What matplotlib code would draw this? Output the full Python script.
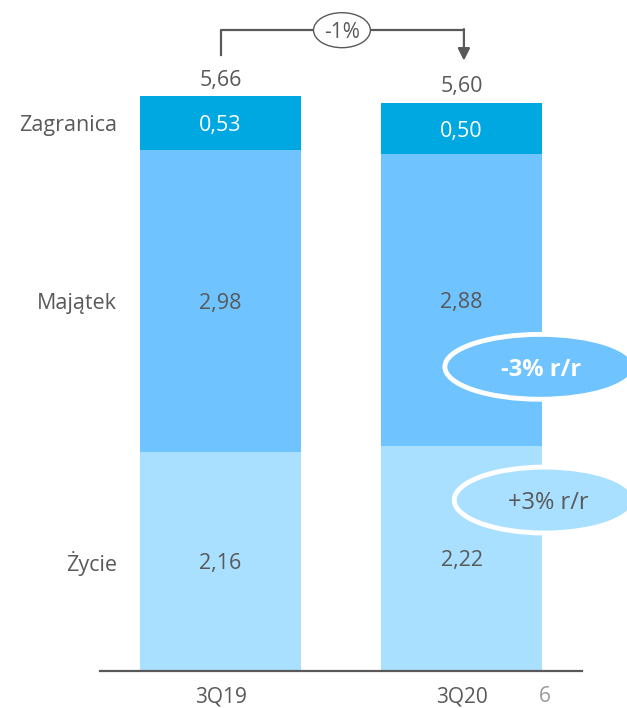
import matplotlib.pyplot as plt
from matplotlib.patches import Ellipse

plt.rcParams['font.family'] = ['Open Sans', 'DejaVu Sans']

# data
periods = ['3Q19', '3Q20']
segments = ['Życie', 'Majątek', 'Zagranica']
zycie = [2.16, 2.22]
majatek = [2.98, 2.88]
zagranica = [0.53, 0.50]
totals = [5.66, 5.60]
total_change = '-1%'
badges = ['-3% r/r', '+3% r/r']

colors = ['#A9E0FF', '#6FC3FF', '#00A8E1']
grey = '#595959'
fs = 15.5

fig = plt.figure(figsize=(6.27, 7.08), dpi=100)
ax = fig.add_axes([100 / 627, 1 - 671 / 708, 482 / 627, 669.2 / 708])

x = [0, 1]
width = 0.668
bottom = [0, 0]
mids = []
for vals, col in zip([zycie, majatek, zagranica], colors):
    ax.bar(x, vals, width, bottom=bottom, color=col, edgecolor='none')
    mids.append([b + v / 2 for b, v in zip(bottom, vals)])
    for xi, b, v in zip(x, bottom, vals):
        tc = 'white' if col == colors[2] else grey
        ax.text(xi, b + v / 2, f'{v:.2f}'.replace('.', ','), ha='center', va='center_baseline',
                fontsize=fs, color=tc)
    bottom = [b + v for b, v in zip(bottom, vals)]

# totals above bars
for xi, t in zip(x, totals):
    ax.annotate(f'{t:.2f}'.replace('.', ','), (xi, t), xytext=(0, 13.5), textcoords='offset points',
                ha='center', va='center_baseline', fontsize=fs, color=grey)

# segment names on the left
for name, m in zip(segments, mids):
    ax.text(-0.43, m[0], name, ha='right', va='center_baseline', fontsize=fs, color=grey)

# bracket with arrow
ax.plot([0, 0, 1.01], [6.075, 6.32, 6.32], color=grey, lw=1.6, clip_on=False)
ax.annotate('', xy=(1.01, 6.02), xytext=(1.01, 6.33),
            arrowprops=dict(arrowstyle='-|>', color=grey, lw=1.6, mutation_scale=18,
                            shrinkA=0, shrinkB=0), annotation_clip=False)
ax.add_patch(Ellipse((0.504, 6.32), 0.236, 0.345, facecolor='white', edgecolor=grey,
                     lw=1.0, clip_on=False, zorder=5))
ax.text(0.504, 6.32, total_change, ha='center', va='center_baseline', fontsize=15, color=grey, zorder=6)

# change badges
ax.add_patch(Ellipse((1.326, 3.0), 0.79, 0.64, facecolor=colors[1], edgecolor='white',
                     lw=3.5, clip_on=False, zorder=5))
ax.text(1.33, 3.0, badges[0], ha='center', va='center_baseline', fontsize=17, fontweight='bold',
        color='white', zorder=6)
ax.add_patch(Ellipse((1.345, 1.686), 0.75, 0.65, facecolor=colors[0], edgecolor='white',
                     lw=3.5, clip_on=False, zorder=5))
ax.text(1.36, 1.686, badges[1], ha='center', va='center_baseline', fontsize=17, color=grey, zorder=6)

ax.set_xlim(-0.5, 1.5)
ax.set_ylim(0, 6.6)
ax.set_xticks(x)
ax.set_xticklabels(periods, fontsize=15, color=grey)
ax.tick_params(axis='x', length=0, pad=11)
ax.set_yticks([])
for s in ['top', 'left', 'right']:
    ax.spines[s].set_visible(False)
ax.spines['bottom'].set_color(grey)
ax.spines['bottom'].set_linewidth(1.6)

fig.text(545 / 627, 1 - 697 / 708, '6', ha='center', va='center', fontsize=15, color='#999999')

fig.savefig('out.png', dpi=100)
